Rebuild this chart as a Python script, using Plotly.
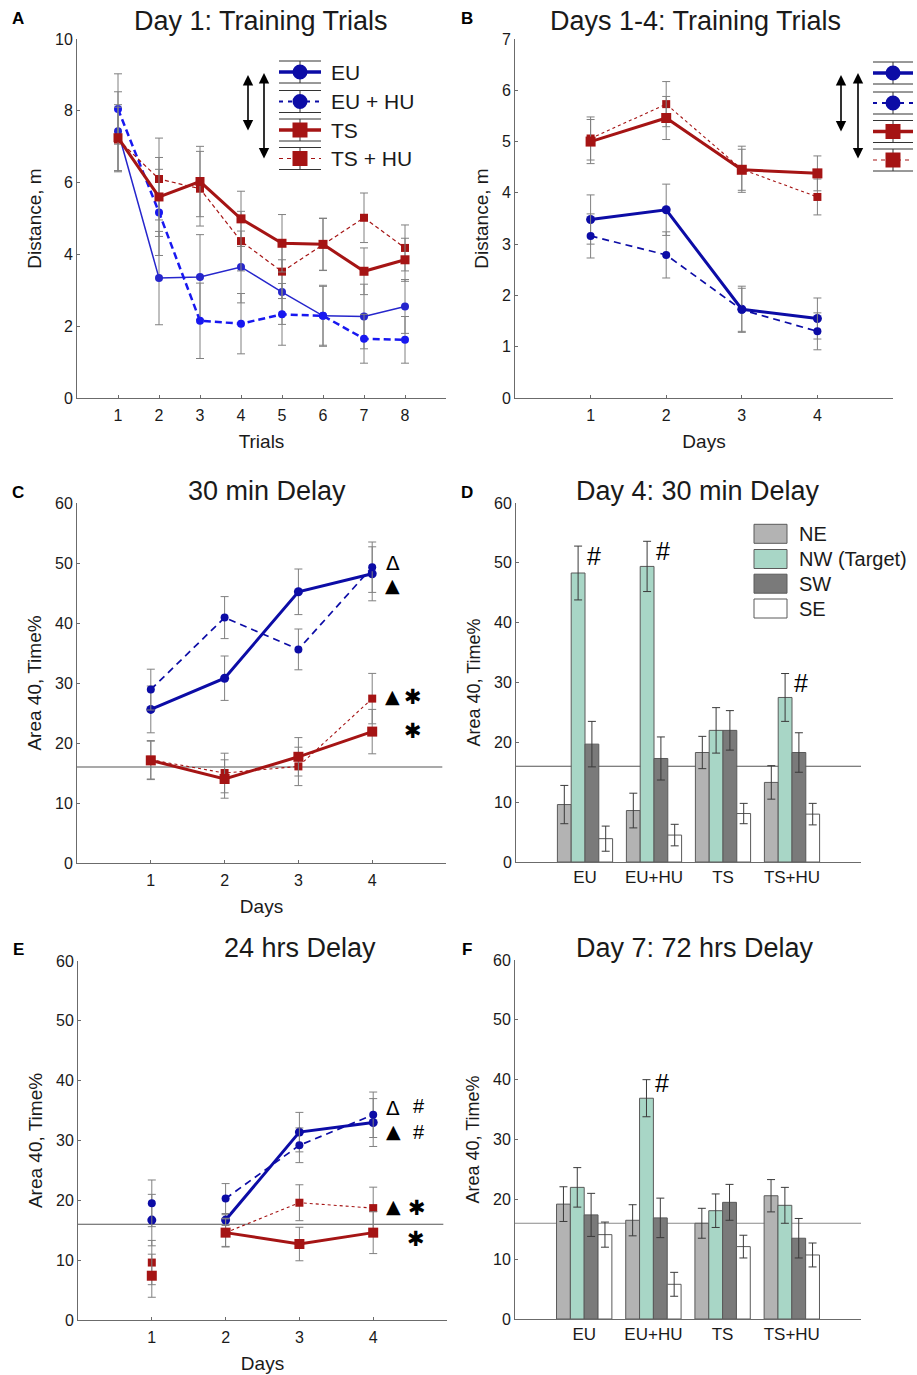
import plotly.graph_objects as go

W, H = 917, 1375
FONT = "Liberation Sans, Arial, Helvetica, sans-serif"
SYM_FONT = "DejaVu Sans, Liberation Sans, sans-serif"
TXT = "#1a1a1a"
AXC = "#6b6b6b"
ERRC = "#808080"
ERRC_BAR = "#3a3a3a"

# ---------------- data ----------------
trials = [1, 2, 3, 4, 5, 6, 7, 8]
days = [1, 2, 3, 4]
series_names = ["EU", "EU + HU", "TS", "TS + HU"]
bar_groups = ["EU", "EU+HU", "TS", "TS+HU"]
quadrants = ["NE", "NW (Target)", "SW", "SE"]
CHANCE = 16

# A: Day 1 training trials (distance, m)
a_eu = [7.43, 3.34, 3.37, 3.65, 2.95, 2.29, 2.27, 2.55]
a_eu_err = [1.10, 1.30, 1.18, 1.00, 0.90, 0.82, 0.90, 0.75]
a_euhu = [8.05, 5.17, 2.15, 2.07, 2.33, 2.29, 1.65, 1.62]
a_euhu_err = [0.98, 1.20, 1.05, 0.84, 0.86, 0.85, 0.68, 0.65]
a_ts = [7.25, 5.60, 6.03, 4.99, 4.31, 4.28, 3.53, 3.85]
a_ts_err = [0.92, 1.10, 0.98, 0.77, 0.80, 0.73, 0.65, 0.60]
a_tshu = [7.20, 6.10, 5.83, 4.37, 3.52, 4.28, 5.02, 4.18]
a_tshu_err = [0.90, 1.14, 1.04, 0.83, 0.75, 0.72, 0.69, 0.64]

# B: Days 1-4 training trials
b_eu = [3.48, 3.67, 1.73, 1.55]
b_eu_err = [0.48, 0.50, 0.45, 0.40]
b_euhu = [3.16, 2.79, 1.72, 1.30]
b_euhu_err = [0.43, 0.45, 0.42, 0.36]
b_ts = [5.00, 5.46, 4.45, 4.38]
b_ts_err = [0.43, 0.42, 0.40, 0.34]
b_tshu = [5.06, 5.73, 4.46, 3.92]
b_tshu_err = [0.42, 0.44, 0.45, 0.35]

# C: 30 min delay (Area 40, time %)
c_eu = [25.6, 30.8, 45.2, 48.2]
c_eu_err = [3.9, 3.7, 3.8, 4.5]
c_euhu = [28.9, 40.9, 35.6, 49.3]
c_euhu_err = [3.4, 3.5, 3.4, 4.2]
c_ts = [17.1, 14.0, 17.7, 21.9]
c_ts_err = [3.2, 3.2, 3.2, 3.7]
c_tshu = [17.2, 15.0, 16.1, 27.4]
c_tshu_err = [3.2, 3.3, 3.2, 4.2]

# D: Day 4, 30 min delay, quadrant time %
d_ne = [9.6, 8.6, 18.3, 13.3]
d_ne_err = [3.2, 2.9, 2.7, 2.8]
d_nw = [48.3, 49.4, 22.0, 27.5]
d_nw_err = [4.5, 4.2, 3.8, 4.0]
d_sw = [19.7, 17.3, 22.0, 18.3]
d_sw_err = [3.8, 3.6, 3.3, 3.3]
d_se = [3.9, 4.5, 8.1, 8.0]
d_se_err = [2.1, 1.8, 1.7, 1.8]

# E: 24 hrs delay
e_eu = [16.7, 16.7, 31.4, 33.0]
e_eu_err = [4.3, 0.9, 3.3, 4.0]
e_euhu = [19.5, 20.3, 29.2, 34.3]
e_euhu_err = [3.9, 2.5, 2.9, 3.8]
e_ts = [7.4, 14.6, 12.7, 14.6]
e_ts_err = [3.6, 2.3, 2.8, 3.5]
e_tshu = [9.6, 14.6, 19.6, 18.7]
e_tshu_err = [3.7, 2.4, 3.0, 3.5]

# F: Day 7, 72 hrs delay
f_ne = [19.2, 16.5, 16.0, 20.6]
f_ne_err = [2.9, 2.6, 2.5, 2.7]
f_nw = [22.0, 36.9, 18.1, 19.0]
f_nw_err = [3.3, 3.1, 2.8, 3.0]
f_sw = [17.4, 16.9, 19.5, 13.5]
f_sw_err = [3.6, 3.3, 3.0, 3.3]
f_se = [14.1, 5.8, 12.1, 10.7]
f_se_err = [2.1, 2.0, 1.9, 2.0]

# ---------------- styles ----------------
BLUE = "#0c0ca6"
BLUE_A = "#2626cc"
BLUE_A2 = "#1818f0"
RED = "#a51414"
QUAD_COLORS = ["#b3b3b3", "#a8d6c6", "#7a7a7a", "#ffffff"]
BAR_EDGE = "#5a5a5a"

style_A = {
    "EU": dict(color=BLUE_A, width=1.5, dash="solid", symbol="circle", size=8),
    "EU + HU": dict(color=BLUE_A2, width=2.5, dash="7px,4px", symbol="circle", size=8),
    "TS": dict(color=RED, width=3, dash="solid", symbol="square", size=9),
    "TS + HU": dict(color=RED, width=1.2, dash="4px,3px", symbol="square", size=8),
}
style_D = {
    "EU": dict(color=BLUE, width=3, dash="solid", symbol="circle", size=9),
    "EU + HU": dict(color=BLUE, width=1.7, dash="7px,5px", symbol="circle", size=8),
    "TS": dict(color=RED, width=3, dash="solid", symbol="square", size=10),
    "TS + HU": dict(color=RED, width=1.1, dash="3px,3px", symbol="square", size=8),
}
style_legend = {
    "EU": dict(color=BLUE, width=3.5, dash="solid", symbol="circle", size=15),
    "EU + HU": dict(color=BLUE, width=2.2, dash="4px,5px", symbol="circle", size=15),
    "TS": dict(color=RED, width=3.5, dash="solid", symbol="square", size=15),
    "TS + HU": dict(color=RED, width=1.2, dash="4px,4px", symbol="square", size=15),
}

# panel rectangles in target pixels: (x0, x1), (ytop, ybottom)
PANELS = {
    1: ((77, 446), (39, 398)),
    2: ((515, 893), (39, 398)),
    3: ((77, 446), (503, 863)),
    4: ((516, 861), (503, 862)),
    5: ((78, 447), (961, 1320)),
    6: ((515, 861), (960, 1319)),
}

# the page is shown with an 8px top offset and a ~1358px tall drawing area
Y_OFF, H_EFF = 8, 1358


def px2x(x):
    return x / W


def px2y(y):
    return 1 - (y - Y_OFF) / H_EFF


def axname(n, letter):
    return letter if n == 1 else f"{letter}{n}"


fig = go.Figure()


def add_series(x, y, err, st, n, mode="lines+markers"):
    fig.add_trace(go.Scatter(
        x=x, y=y, mode=mode, xaxis=axname(n, "x"), yaxis=axname(n, "y"),
        line=dict(color=st["color"], width=st["width"], dash=st["dash"]),
        marker=dict(symbol=st["symbol"], size=st["size"], color=st["color"],
                    line=dict(width=0)),
        error_y=dict(type="data", array=err, color=ERRC, thickness=1, width=4),
        showlegend=False, hoverinfo="x+y"))


# A
for y, e, nm in [(a_eu, a_eu_err, "EU"), (a_euhu, a_euhu_err, "EU + HU"),
                 (a_tshu, a_tshu_err, "TS + HU"), (a_ts, a_ts_err, "TS")]:
    add_series(trials, y, e, style_A[nm], 1)
# B
for y, e, nm in [(b_eu, b_eu_err, "EU"), (b_euhu, b_euhu_err, "EU + HU"),
                 (b_tshu, b_tshu_err, "TS + HU"), (b_ts, b_ts_err, "TS")]:
    add_series(days, y, e, style_D[nm], 2)
# C
for y, e, nm in [(c_eu, c_eu_err, "EU"), (c_euhu, c_euhu_err, "EU + HU"),
                 (c_tshu, c_tshu_err, "TS + HU"), (c_ts, c_ts_err, "TS")]:
    add_series(days, y, e, style_D[nm], 3)
# E (day 1 shown as markers only; lines from day 2)
for y, e, nm in [(e_eu, e_eu_err, "EU"), (e_euhu, e_euhu_err, "EU + HU"),
                 (e_tshu, e_tshu_err, "TS + HU"), (e_ts, e_ts_err, "TS")]:
    add_series(days[1:], y[1:], e[1:], style_D[nm], 5)
    add_series(days[:1], y[:1], e[:1], style_D[nm], 5, mode="markers")


def add_bars(n, vals, errs):
    for q, v, e, c in zip(quadrants, vals, errs, QUAD_COLORS):
        fig.add_trace(go.Bar(
            x=days, y=v, name=q, xaxis=axname(n, "x"), yaxis=axname(n, "y"),
            marker=dict(color=c, line=dict(color=BAR_EDGE, width=1)),
            error_y=dict(type="data", array=e, color=ERRC_BAR, thickness=1, width=4),
            showlegend=False))


add_bars(4, [d_ne, d_nw, d_sw, d_se], [d_ne_err, d_nw_err, d_sw_err, d_se_err])
add_bars(6, [f_ne, f_nw, f_sw, f_se], [f_ne_err, f_nw_err, f_sw_err, f_se_err])

# ---------------- axes ----------------
layout_axes = {}
xranges = {1: [0, 9], 2: [0, 5], 3: [0, 5], 4: [0, 5], 5: [0, 5], 6: [0, 5]}
yranges = {1: [0, 10], 2: [0, 7], 3: [0, 60], 4: [0, 60], 5: [0, 60], 6: [0, 60]}
xtitles = {1: "Trials", 2: "Days", 3: "Days", 5: "Days"}
ytitles = {1: "Distance, m", 2: "Distance, m", 3: "Area 40, Time%",
           4: "Area 40, Time%", 5: "Area 40, Time%", 6: "Area 40, Time%"}
ydticks = {1: 2, 2: 1, 3: 10, 4: 10, 5: 10, 6: 10}

for n, ((x0, x1), (yt, yb)) in PANELS.items():
    xa = dict(domain=[px2x(x0), px2x(x1)], range=xranges[n], anchor=axname(n, "y"),
              showline=True, linecolor=AXC, linewidth=1, showgrid=False, zeroline=False,
              ticks="inside", ticklen=3, tickcolor=AXC, ticklabelstandoff=3,
              tickfont=dict(size=16, color=TXT, family=FONT), fixedrange=True)
    if n in (4, 6):
        xa.update(tickvals=days, ticktext=bar_groups, ticks="", ticklabelstandoff=0,
                  tickfont=dict(size=17, color=TXT, family=FONT))
    elif n == 1:
        xa.update(tickvals=trials)
    else:
        xa.update(tickvals=days)
    if n in xtitles:
        xa["title"] = dict(text=xtitles[n], font=dict(size=19, color=TXT, family=FONT),
                           standoff=11)
    ya = dict(domain=[px2y(yb), px2y(yt)], range=yranges[n], anchor=axname(n, "x"),
              showline=True, linecolor=AXC, linewidth=1, showgrid=False, zeroline=False,
              ticks="inside", ticklen=3, tickcolor=AXC, dtick=ydticks[n], tick0=0,
              tickfont=dict(size=16, color=TXT, family=FONT), fixedrange=True,
              title=dict(text=ytitles[n], font=dict(size=19 if n in (1, 2, 3, 5) else 18,
                                                      color=TXT, family=FONT), standoff=8))
    layout_axes["xaxis" if n == 1 else f"xaxis{n}"] = xa
    layout_axes["yaxis" if n == 1 else f"yaxis{n}"] = ya

fig.update_layout(**layout_axes)

# chance reference lines
for n, x1 in [(3, 0.99), (4, 1.0), (5, 0.99), (6, 1.0)]:
    fig.add_shape(type="line", xref=f"x{n} domain", yref=f"y{n}", x0=0, x1=x1,
                  y0=CHANCE, y1=CHANCE, line=dict(color="#555555" if n != 6 else "#8a8a8a",
                                                  width=1.2), layer="below")

# ---------------- titles / letters ----------------
titles = [("Day 1: Training Trials", 261, 21), ("Days 1-4: Training Trials", 695, 21),
          ("30 min Delay", 267, 491), ("Day 4: 30 min Delay", 698, 491),
          ("24 hrs Delay", 300, 948), ("Day 7: 72 hrs Delay", 695, 948)]
for t, x, y in titles:
    fig.add_annotation(text=t, xref="paper", yref="paper", x=px2x(x), y=px2y(y),
                       xanchor="center", yanchor="middle", showarrow=False,
                       font=dict(size=27, color=TXT, family=FONT))
letters = [("A", 18, 19), ("B", 467, 19), ("C", 18, 492), ("D", 467, 492),
           ("E", 18, 949), ("F", 467, 949)]
for t, x, y in letters:
    fig.add_annotation(text=f"<b>{t}</b>", xref="paper", yref="paper", x=px2x(x),
                       y=px2y(y), xanchor="center", yanchor="middle", showarrow=False,
                       font=dict(size=17, color="#000", family=FONT))


# ---------------- significance marks ----------------
def mark(n, x, y, text, size=22, family=SYM_FONT):
    fig.add_annotation(text=text, xref=f"x{n}", yref=f"y{n}", x=x, y=y,
                       xanchor="center", yanchor="middle", showarrow=False,
                       font=dict(size=size, color="#000", family=family))


mark(3, 4.28, 50.0, "Δ", 20)
mark(3, 4.28, 46.3, "▲", 19)
mark(3, 4.28, 27.9, "▲", 19)
mark(3, 4.55, 27.6, "✱", 21)
mark(3, 4.55, 22.0, "✱", 21)

mark(5, 4.27, 35.4, "Δ", 20)
mark(5, 4.27, 31.6, "▲", 19)
mark(5, 4.62, 33.6, "#<br>#", 20, FONT)   # stacked '#' marks for both EU groups
mark(5, 4.27, 19.1, "▲", 19)
mark(5, 4.6, 18.8, "✱", 21)
mark(5, 4.58, 13.6, "✱", 21)

for n, g in [(4, 0), (4, 1), (4, 3)]:
    mark(n, days[g] + 0.13, d_nw[g] + d_nw_err[g] - 1.6, "#", 25, FONT)
mark(6, days[1] + 0.13, f_nw[1] + f_nw_err[1] - 0.6, "#", 25, FONT)


# ---------------- legends (MATLAB-style icons) ----------------
def legend_rows(x0, x1, rows, with_text, text_x=None):
    for nm, yc in zip(series_names, rows):
        st = style_legend[nm]
        xc = (x0 + x1) / 2
        for dy in (-11, 11):
            fig.add_shape(type="line", xref="paper", yref="paper", x0=px2x(x0), x1=px2x(x1),
                          y0=px2y(yc + dy), y1=px2y(yc + dy), line=dict(color="#333", width=1))
        fig.add_shape(type="line", xref="paper", yref="paper", x0=px2x(xc), x1=px2x(xc),
                      y0=px2y(yc - 11), y1=px2y(yc + 11), line=dict(color="#333", width=1))
        fig.add_shape(type="line", xref="paper", yref="paper", x0=px2x(x0), x1=px2x(x1),
                      y0=px2y(yc), y1=px2y(yc),
                      line=dict(color=st["color"], width=st["width"], dash=st["dash"]))
        r = st["size"] / 2
        fig.add_shape(type="circle" if st["symbol"] == "circle" else "rect",
                      xref="paper", yref="paper", x0=px2x(xc - r), x1=px2x(xc + r),
                      y0=px2y(yc + r), y1=px2y(yc - r), fillcolor=st["color"],
                      line=dict(color=st["color"], width=0))
        if with_text:
            fig.add_annotation(text=nm, xref="paper", yref="paper", x=px2x(text_x),
                               y=px2y(yc), xanchor="left", yanchor="middle", showarrow=False,
                               font=dict(size=21, color=TXT, family=FONT))


legend_rows(279, 321, [72, 101.5, 130, 158.5], True, 329)
legend_rows(873, 913, [73, 103, 131.5, 160], False)


def arrow(x, y0, y1):
    fig.add_annotation(xref="paper", yref="paper", x=px2x(x), y=px2y(y0), ax=0, ay=y1 - y0,
                       axref="pixel", ayref="pixel", text="", showarrow=True, arrowhead=2,
                       arrowside="end+start", arrowsize=1.3, arrowwidth=1.6,
                       arrowcolor="#000", standoff=0, startstandoff=0)


arrow(248, 75, 132)
arrow(264, 73, 160)
arrow(841, 75, 133)
arrow(858, 73, 160)

# quadrant legend for D
for q, c, yc in zip(quadrants, QUAD_COLORS, [533.8, 559, 583.7, 608.5]):
    fig.add_shape(type="rect", xref="paper", yref="paper", x0=px2x(754), x1=px2x(787),
                  y0=px2y(yc + 9.5), y1=px2y(yc - 9.5), fillcolor=c,
                  line=dict(color=BAR_EDGE, width=1))
    fig.add_annotation(text=q, xref="paper", yref="paper", x=px2x(797), y=px2y(yc),
                       xanchor="left", yanchor="middle", showarrow=False,
                       font=dict(size=20, color=TXT, family=FONT))

fig.update_layout(width=W, height=H, margin=dict(l=0, r=0, t=0, b=0),
                  paper_bgcolor="white", plot_bgcolor="white",
                  barmode="group", bargap=0.2, bargroupgap=0,
                  font=dict(family=FONT, color=TXT), showlegend=False)

fig.write_html("out.html")
